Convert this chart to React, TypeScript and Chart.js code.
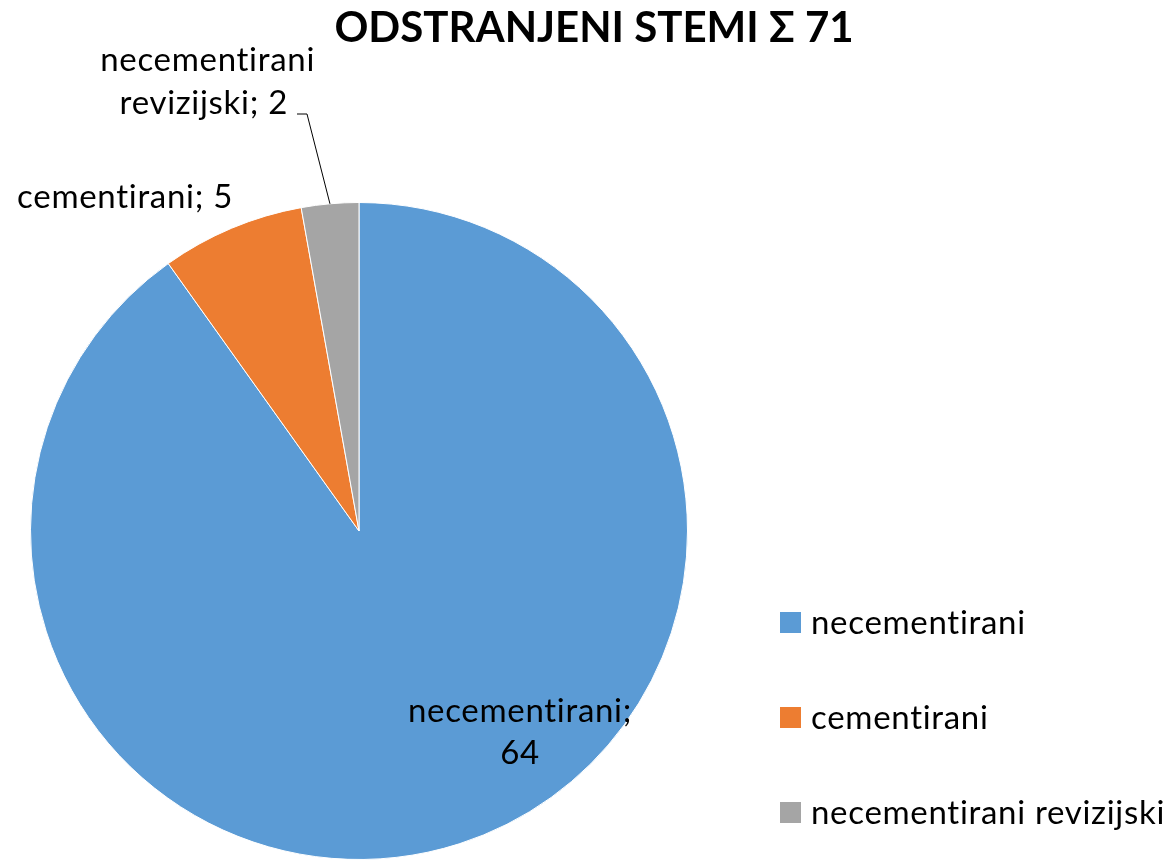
import React, { useEffect, useRef } from "react";
import { Chart, registerables } from "chart.js";

Chart.register(...registerables);

const TITLE = "ODSTRANJENI STEMI \u03A3 71";
const categories = ["necementirani", "cementirani", "necementirani revizijski"];
const values = [64, 5, 2];
const colors = ["#5B9BD5", "#ED7D31", "#A5A5A5"];
const FONT = "Lato, 'Open Sans', sans-serif";

const overlayPlugin = {
  id: "overlay",
  afterDraw(chart: any) {
    const ctx = chart.ctx as CanvasRenderingContext2D;
    const meta = chart.getDatasetMeta(0);
    const arc0 = meta.data[0];
    const cx = arc0.x;
    const cy = arc0.y;
    const r = arc0.outerRadius;
    ctx.save();
    ctx.fillStyle = "#000";
    // title
    ctx.font = `bold 42px ${FONT}`;
    ctx.textAlign = "center";
    ctx.textBaseline = "alphabetic";
    ctx.fillText(TITLE, 594, 42);

    (ctx as any).letterSpacing = "0.7px";
    ctx.font = `33px ${FONT}`;
    // blue label (inside)
    ctx.textAlign = "center";
    ctx.textBaseline = "middle";
    ctx.fillText(`${categories[0]};`, cx + 161, cy + 180);
    ctx.fillText(`${values[0]}`, cx + 161, cy + 222);
    // orange label
    ctx.textAlign = "right";
    ctx.fillText(`${categories[1]}; ${values[1]}`, cx - 126, cy - 334);
    // gray label (two lines)
    ctx.fillText("necementirani", cx - 44, cy - 471);
    ctx.fillText(`revizijski; ${values[2]}`, cx - 71, cy - 428);
    // leader line
    const arc2 = meta.data[2];
    const mid = (arc2.startAngle + arc2.endAngle) / 2;
    const ex = cx + Math.cos(mid) * r;
    const ey = cy + Math.sin(mid) * r;
    ctx.strokeStyle = "#000";
    ctx.lineWidth = 1;
    ctx.beginPath();
    ctx.moveTo(cx - 62, cy - 417);
    ctx.lineTo(cx - 52, cy - 417);
    ctx.lineTo(ex, ey);
    ctx.stroke();

    // legend
    const lx = 780;
    const ly = [622, 717, 812];
    ctx.textAlign = "left";
    ctx.textBaseline = "middle";
    categories.forEach((c, i) => {
      ctx.fillStyle = colors[i];
      ctx.fillRect(lx, ly[i] - 10, 21, 21);
      ctx.fillStyle = "#000";
      ctx.fillText(c, lx + 31, ly[i] + 1);
    });
    ctx.restore();
  },
};

export default function App() {
  const ref = useRef<HTMLCanvasElement>(null);
  useEffect(() => {
    if (!ref.current) return;
    const chart = new Chart(ref.current, {
      type: "pie",
      data: {
        labels: categories,
        datasets: [
          {
            data: values,
            backgroundColor: colors,
            borderColor: "#ffffff",
            borderWidth: 1,
          },
        ],
      },
      options: {
        animation: false,
        responsive: false,
        layout: { padding: { left: 29, right: 485, top: 202, bottom: 0 } },
        plugins: {
          legend: { display: false },
          title: { display: false },
          tooltip: { enabled: false },
        },
      },
      plugins: [overlayPlugin],
    });
    return () => chart.destroy();
  }, []);
  return (
    <div style={{ position: "absolute", left: 0, top: 0, width: 1174, height: 860, background: "#fff" }}>
      <canvas ref={ref} width={1174} height={860} style={{ width: 1174, height: 860 }} />
    </div>
  );
}
